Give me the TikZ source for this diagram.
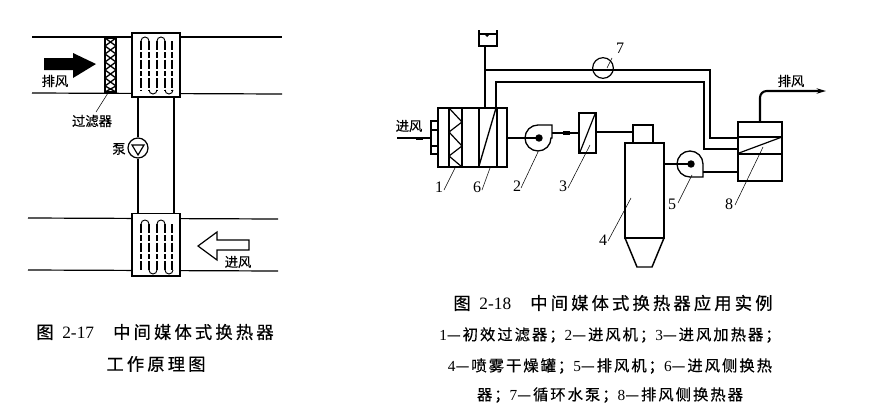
\documentclass[tikz,border=0pt]{standalone}
\usepackage{fontspec}
\setmainfont{Liberation Serif}
\newfontfamily\cjk[FakeBold=0.5]{Noto Sans CJK SC}
\newfontfamily\cjktitle[LetterSpace=18,FakeBold=0.5]{Noto Sans CJK SC}
\newfontfamily\cjksmall[LetterSpace=13,FakeBold=0.5]{Noto Sans CJK SC}
\usetikzlibrary{arrows.meta}
\tikzset{
  duct/.style={line width=0.9pt},
  pipe/.style={line width=1.6pt},
  equip/.style={draw,line width=1pt,fill=white},
  leader/.style={line width=0.4pt},
  lab/.style={font=\cjk\fontsize{10}{11}\selectfont,inner sep=0pt},
  num/.style={font=\fontsize{12}{13}\selectfont,inner sep=0pt},
  captext/.style={font=\cjktitle\fontsize{13}{14}\selectfont,inner sep=0pt,anchor=center},
  capsmall/.style={font=\cjksmall\fontsize{11.5}{12}\selectfont,inner sep=0pt,anchor=center},
  coil/.style={line width=0.9pt,dash pattern=on 7pt off 1.5pt on 4pt off 1.5pt},
}
\begin{document}
\begin{tikzpicture}[x=0.75pt,y=-0.75pt]
\useasboundingbox (0,0) rectangle (873,418);
% ---------- left figure
\coordinate (dtl) at (32,37); \coordinate (dtr) at (282,37);
\coordinate (dbl) at (32,93); \coordinate (dbr) at (282,94);
\coordinate (ltl) at (28,218); \coordinate (ltr) at (278,219);
\coordinate (lbl) at (28,270); \coordinate (lbr) at (278,271);
\draw[duct] (dtl) -- (dtr);
\draw[duct] (dbl) -- (dbr);
\draw[duct] (ltl) -- (ltr);
\draw[duct] (lbl) -- (lbr);
\node[equip,minimum width=36pt,minimum height=48pt,inner sep=0pt] (hxa) at (156,65) {};
\node[equip,minimum width=36pt,minimum height=47pt,inner sep=0pt] (hxb) at (156,244.5) {};
\foreach \x in {141,149,157,165,172}{
  \draw[coil] (\x,41) -- (\x,90);
  \draw[coil] (\x,224) -- (\x,270);
}
\foreach \x in {145,161}{
  \draw[line width=0.7pt] (\x-4,41) arc[start angle=180,end angle=360,radius=4];
  \draw[line width=0.7pt] (\x-4,224) arc[start angle=180,end angle=360,radius=4];
}
\foreach \x in {153,169}{
  \draw[line width=0.7pt] (\x-4,90) arc[start angle=180,end angle=0,radius=4];
  \draw[line width=0.7pt] (\x-4,270) arc[start angle=180,end angle=0,radius=4];
}
% filter
\draw[line width=1.2pt,fill=white] (105,38) rectangle (116,92);
\draw[line width=1pt] (105,38) -- (116,46) -- (105,54) -- (116,62) -- (105,70) -- (116,78) -- (105,86) -- (116,92);
\draw[line width=1pt] (116,38) -- (105,46) -- (116,54) -- (105,62) -- (116,70) -- (105,78) -- (116,86) -- (105,92);
% pump and pipes
\node[draw,circle,line width=0.9pt,minimum size=15pt,inner sep=0pt] (pumpa) at (138,148) {};
\draw[line width=0.9pt] (132,145) -- (144,145) -- (138,155) -- cycle;
\coordinate (pat) at (138,97);
\coordinate (pab) at (138,213);
\draw[pipe] (pat) -- (pumpa);
\draw[pipe] (pumpa) -- (pab);
\draw[line width=0.8pt] (174,97) -- (174,213);
\fill (44,58) -- (73,58) -- (73,53) -- (96,64) -- (73,78) -- (73,70) -- (44,70) -- cycle;
\draw[line width=0.9pt,fill=white] (198,246) -- (217,232) -- (217,240) -- (249,240) -- (249,250) -- (217,250) -- (217,260) -- cycle;
\node[lab] (pfa) at (55,81) {排风};
\node[lab] (glq) at (92,121) {过滤器};
\node[lab] (beng) at (119,149) {泵};
\node[lab] (jfa) at (238,262) {进风};
\coordinate (glqt) at (108,93);
\draw[leader] (96,112) -- (glqt);
\node[captext] (capa) at (155,332) {图\hspace{0.5em}{\rmfamily 2-17}\hspace{1.1em}中间媒体式换热器};
\node[captext] (capb) at (156,364) {工作原理图};
% ---------- right figure
% tank
\draw[line width=1pt] (479,30) -- (479,46) -- (497,46) -- (497,30);
\draw[line width=0.8pt] (479,34) -- (497,34);
\fill (484,34) -- (490,34) -- (487,37) -- cycle;
\coordinate (tank) at (485,46);
% main box 1 and 6
\node[equip,minimum width=51.75pt,minimum height=44.25pt,inner sep=0pt] (boxa) at (472.5,137.5) {};
\foreach \x in {449,462,479,497}{\draw[line width=1pt] (\x,108) -- (\x,167);}
\draw[line width=0.9pt] (449,108) -- (462,122) -- (449,132) -- (462,146) -- (449,156) -- (462,167);
\draw[line width=1pt] (479,166) -- (496,108);
\draw[line width=1pt] (431,120) -- (431,155);
\draw[line width=1pt] (431,121) -- (438,121) (431,154) -- (438,154);
\draw[line width=1pt] (431,130) -- (438,130) (431,146) -- (438,146);
\coordinate (inl) at (397,138);
\coordinate (inr) at (431,138);
\draw[line width=0.8pt] (inl) -- (inr);
\fill (416,136.5) rectangle (423,139.5);
\node[lab] (jfb) at (409,126) {进风};
% pipes
\coordinate (ctee) at (485,70);
\coordinate (cbox) at (485,108);
\coordinate (hp) at (710,70);
\coordinate (hd) at (710,138);
\coordinate (lp) at (496,82);
\coordinate (lq) at (704,82);
\coordinate (ld) at (704,149);
\coordinate (lbox) at (496,108);
\draw[pipe] (tank) -- (cbox);
\draw[pipe] (lbox) -- (lp) -- (lq) -- (ld) -- (738,149);
\draw[pipe] (ctee) -- (hp) -- (hd) -- (738,138);
\node[draw,circle,line width=0.9pt,fill=white,minimum size=15.5pt,inner sep=0pt] (pumpb) at (603,68) {};
\draw[pipe] (593,70) -- (613,70);
% fan 2
\draw[line width=1pt,fill=white] (552,125) -- (552,138) -- (551,138) arc[start angle=0,end angle=270,radius=13] -- cycle;
\coordinate (fa) at (539,138);
\fill (fa) circle (2.8pt);
\coordinate (ba) at (507,138);
\draw[line width=1.2pt] (ba) -- (fa);
% box 3
\node[equip,minimum width=12.75pt,minimum height=30pt,inner sep=0pt] (boxc) at (587.5,133) {};
\draw[line width=0.9pt] (580,152) -- (595,114);
\draw[line width=1.2pt] (552,133) -- (boxc.west);
\fill (563,131) rectangle (570,135);
% tower
\node[equip,minimum width=15pt,minimum height=13.5pt,inner sep=0pt] (towtop) at (643,134) {};
\draw[line width=1.1pt] (625,143) rectangle (664,238);
\draw[line width=1.1pt] (625,238) -- (637,267) -- (652,267) -- (664,238);
\draw[line width=1.2pt] (boxc.east |- 0,132) -- (towtop.west |- 0,132);
% fan 5
\draw[line width=1pt,fill=white] (703,177) -- (703,164) arc[start angle=0,end angle=-270,radius=13] -- cycle;
\coordinate (fb) at (691,164);
\fill (fb) circle (2.8pt);
\draw[line width=1.1pt] (664,164) -- (fb);
% box 8
\node[equip,minimum width=33pt,minimum height=44.25pt,inner sep=0pt] (boxh) at (760,151.5) {};
\draw[line width=1pt] (738,137) -- (782,137);
\draw[line width=1pt] (738,154) -- (782,154);
\draw[line width=0.9pt] (739,153) -- (782,137);
\draw[line width=1.3pt] (703,172) -- (738,172);
\coordinate (exa) at (760,122);
\coordinate (exb) at (826,91);
\draw[line width=1.6pt,-{Stealth[length=7pt,width=4pt]},rounded corners=5pt] (exa) |- (exb);
\node[lab] (pfb) at (791,81) {排风};
% numbers
\node[num] (n1) at (439,187) {1};
\node[num] (n6) at (477,187) {6};
\node[num] (n2) at (517,186) {2};
\node[num] (n3) at (563,186) {3};
\node[num] (n4) at (603,240) {4};
\node[num] (n7) at (620,48) {7};
\node[num] (n5) at (672,204) {5};
\node[num] (n8) at (729,204) {8};
\draw[leader] (444,190) -- (456,166);
\draw[leader] (482,190) -- (490,168);
\draw[leader] (521,188) -- (538,152);
\draw[leader] (568,188) -- (590,145);
\draw[leader] (608,241) -- (631,198);
\draw[leader] (612,58) -- (607,68);
\draw[leader] (678,203) -- (692,175);
\draw[leader] (735,205) -- (763,147);
% captions
\node[captext] (capc) at (613,303) {图\hspace{0.5em}{\rmfamily 2-18}\hspace{1.1em}中间媒体式换热器应用实例};
\node[capsmall] (capd) at (610,335) {{\rmfamily 1}—初效过滤器；{\rmfamily 2}—进风机；{\rmfamily 3}—进风加热器；};
\node[capsmall] (cape) at (610,366) {{\rmfamily 4}—喷雾干燥罐；{\rmfamily 5}—排风机；{\rmfamily 6}—进风侧换热};
\node[capsmall] (capf) at (610,395) {器；{\rmfamily 7}—循环水泵；{\rmfamily 8}—排风侧换热器};
\end{tikzpicture}
\end{document}
